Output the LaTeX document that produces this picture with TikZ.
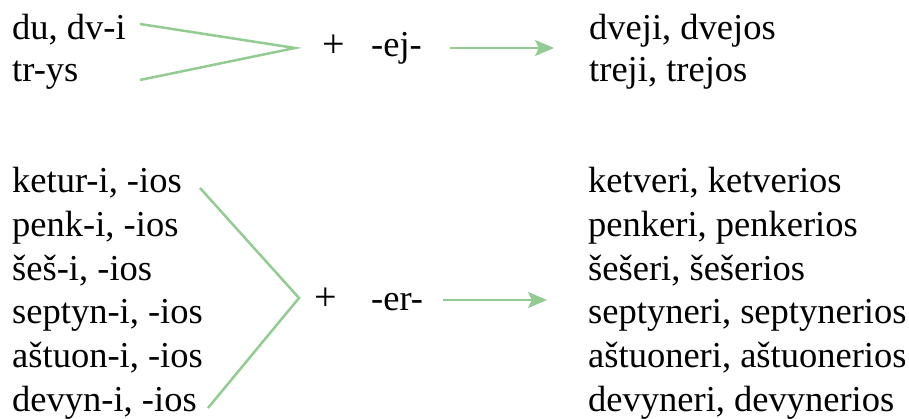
\documentclass[tikz,border=0pt]{standalone}
\usepackage{fontspec}
\setmainfont{Liberation Serif}
\usetikzlibrary{arrows.meta,positioning}
\definecolor{leafgreen}{RGB}{146,204,146}
\tikzset{word/.style={anchor=base west,inner sep=0pt,font=\fontsize{36.5}{44}\selectfont},
  sign/.style={inner sep=0pt,font=\fontsize{40}{44}\selectfont},
  brace/.style={leafgreen,line width=2.5pt},
  growarrow/.style={leafgreen,line width=2.5pt,-{Stealth[length=19pt,width=16pt,inset=4pt]}}}

\begin{document}
\begin{tikzpicture}[x=1pt,y=-1pt]
  \useasboundingbox (0,0) rectangle (909,419);
  % du, trys + ej
  \node[word] (du) at (12,40) {du, dv-i};
  \node[word] (trys) at (12,82) {tr-ys};
  \coordinate (duend) at (140,24);
  \coordinate (trysend) at (140,80);
  \coordinate (tipej) at (295,48);
  \draw[brace] (duend) -- (tipej) -- (trysend);
  \node[sign] (plusej) at (334,46) {+};
  \node[word] (ej) at (371,57) {-ej-};
  \coordinate (ejfrom) at (450,48);
  \coordinate (ejto) at (554,48);
  \draw[growarrow] (ejfrom) -- (ejto);
  \node[word] (dveji) at (589,40) {dveji, dvejos};
  \node[word] (treji) at (589,82) {treji, trejos};
  % keturi ... devyni + er
  \node[word] (ketur) at (12,193) {ketur-i, -ios};
  \node[word] (penk) at (12,236.6) {penk-i, -ios};
  \node[word] (ses) at (12,280.2) {šeš-i, -ios};
  \node[word] (septyn) at (12,323.8) {septyn-i, -ios};
  \node[word] (astuon) at (12,367.4) {aštuon-i, -ios};
  \node[word] (devyn) at (12,411) {devyn-i, -ios};
  \coordinate (keturend) at (200,188);
  \coordinate (devynend) at (208,408);
  \coordinate (tiper) at (299,298);
  \draw[brace] (keturend) -- (tiper) -- (devynend);
  \node[sign] (pluser) at (326,299) {+};
  \node[word] (er) at (371,310) {-er-};
  \coordinate (erfrom) at (443,300);
  \coordinate (erto) at (547,300);
  \draw[growarrow] (erfrom) -- (erto);
  \node[word] (ketveri) at (588,193) {ketveri, ketverios};
  \node[word] (penkeri) at (588,236.6) {penkeri, penkerios};
  \node[word] (seseri) at (588,280.2) {šešeri, šešerios};
  \node[word] (septyneri) at (588,323.8) {septyneri, septynerios};
  \node[word] (astuoneri) at (588,367.4) {aštuoneri, aštuonerios};
  \node[word] (devyneri) at (588,411) {devyneri, devynerios};
\end{tikzpicture}
\end{document}
